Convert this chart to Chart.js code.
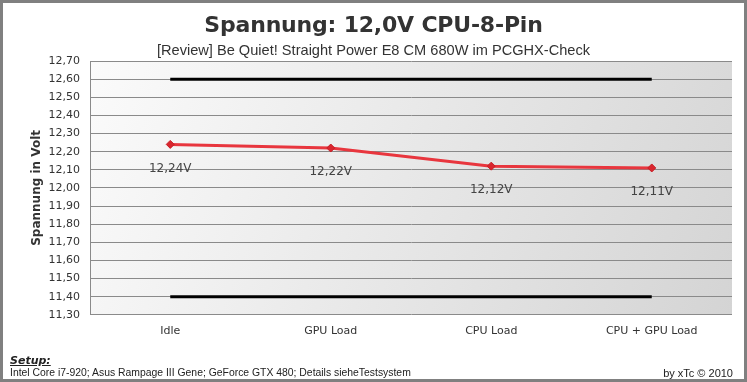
<!DOCTYPE html>
<html>
<head>
<meta charset="utf-8">
<script src="https://cdn.jsdelivr.net/npm/chart.js@4.4.0/dist/chart.umd.min.js"></script>
<style>
  body { margin: 0; background: #fff; }
  #wrap { position: relative; width: 747px; height: 382px; overflow: hidden; }
  #frame { position: absolute; left: 0; top: 0; width: 741px; height: 376px; border: 3px solid #808080; pointer-events: none; }
  canvas { position: absolute; left: 0; top: 0; }
  .txt { position: absolute; white-space: nowrap; color: #333; }
  #title { left: 0; width: 747px; top: 12px; text-align: center; font: bold 22px Tahoma, "DejaVu Sans", sans-serif; color: #333; letter-spacing: -0.2px; }
  #subtitle { left: 0; width: 747px; top: 42px; text-align: center; font: 14.6px "Liberation Sans Narrow", "Liberation Sans", sans-serif; color: #333; }
  #setup { left: 10px; top: 354px; font: bold italic 11px "DejaVu Sans", sans-serif; text-decoration: underline; color: #222; }
  #details { left: 10px; top: 367px; font: 10.4px "Liberation Sans Narrow", "Liberation Sans", sans-serif; color: #222; }
  #credit { right: 14px; top: 367px; font: 11px "Liberation Sans Narrow", "Liberation Sans", sans-serif; color: #222; }
</style>
</head>
<body>
<div id="wrap">
  <canvas id="chart" width="747" height="382"></canvas>
  <div class="txt" id="title">Spannung: 12,0V CPU-8-Pin</div>
  <div class="txt" id="subtitle">[Review] Be Quiet! Straight Power E8 CM 680W im PCGHX-Check</div>
  <div class="txt" id="setup">Setup:</div>
  <div class="txt" id="details">Intel Core i7-920; Asus Rampage III Gene; GeForce GTX 480; Details sieheTestsystem</div>
  <div class="txt" id="credit">by xTc © 2010</div>
  <div id="frame"></div>
</div>
<script>
// Data
const categories = ['Idle', 'GPU Load', 'CPU Load', 'CPU + GPU Load'];
const voltages = [12.24, 12.22, 12.12, 12.11];
const upperLimit = [12.60, 12.60, 12.60, 12.60];
const lowerLimit = [11.40, 11.40, 11.40, 11.40];
const yMin = 11.30, yMax = 12.70, yStep = 0.10;

const fmt = v => v.toFixed(2).replace('.', ',');

// Gradient background behind the plot area
const plotBackground = {
  id: 'plotBackground',
  beforeDraw(chart) {
    const { ctx, chartArea: a } = chart;
    const g = ctx.createLinearGradient(a.left, a.top, a.right, a.bottom);
    g.addColorStop(0, '#fbfbfb');
    g.addColorStop(1, '#d4d4d4');
    ctx.save();
    ctx.fillStyle = g;
    ctx.fillRect(a.left, a.top, a.right - a.left, a.bottom - a.top);
    ctx.restore();
  }
};

// Value labels below the red points
const valueLabels = {
  id: 'valueLabels',
  afterDatasetsDraw(chart) {
    const { ctx } = chart;
    const meta = chart.getDatasetMeta(2);
    ctx.save();
    ctx.font = '12px "DejaVu Sans", Verdana, sans-serif';
    ctx.fillStyle = '#444';
    ctx.textAlign = 'center';
    ctx.textBaseline = 'middle';
    meta.data.forEach((pt, i) => {
      ctx.fillText(fmt(voltages[i]) + 'V', pt.x, pt.y + 24);
    });
    ctx.restore();
  }
};

const ctx = document.getElementById('chart').getContext('2d');
new Chart(ctx, {
  type: 'line',
  data: {
    labels: categories,
    datasets: [
      { data: upperLimit, borderColor: '#000', borderWidth: 3, pointRadius: 0, pointHoverRadius: 0, tension: 0 },
      { data: lowerLimit, borderColor: '#000', borderWidth: 3, pointRadius: 0, pointHoverRadius: 0, tension: 0 },
      {
        data: voltages, borderColor: '#e8363e', borderWidth: 3, tension: 0,
        pointStyle: 'rectRot', pointRadius: 4, pointBackgroundColor: '#d9262e', pointBorderColor: '#c81e26', pointBorderWidth: 1
      }
    ]
  },
  options: {
    responsive: false,
    animation: false,
    layout: { padding: { left: 30, right: 15, top: 61, bottom: 34 } },
    plugins: { legend: { display: false }, tooltip: { enabled: false } },
    scales: {
      x: {
        offset: true,
        grid: { display: false, drawTicks: false },
        border: { display: false },
        ticks: { padding: 10, color: '#333', font: { family: '"DejaVu Sans", Verdana, sans-serif', size: 11 } }
      },
      y: {
        min: yMin, max: yMax,
        afterBuildTicks(scale) {
          scale.ticks = [];
          for (let i = 0; i <= Math.round((yMax - yMin) / yStep); i++) scale.ticks.push({ value: +(yMin + i * yStep).toFixed(2) });
        },
        afterFit(scale) { scale.width = 60; },
        grid: { color: '#8a8a8a', lineWidth: 1, drawTicks: false },
        border: { display: true, color: '#8a8a8a' },
        ticks: {
          padding: 10, color: '#333',
          font: { family: '"DejaVu Sans", Verdana, sans-serif', size: 11 },
          callback: v => fmt(v)
        },
        title: {
          display: true, text: 'Spannung in Volt', color: '#333',
          font: { family: '"DejaVu Sans", Verdana, sans-serif', size: 12, weight: 'bold' },
          padding: { top: 0, bottom: 0 }
        }
      }
    }
  },
  plugins: [plotBackground, valueLabels]
});
</script>
</body>
</html>
